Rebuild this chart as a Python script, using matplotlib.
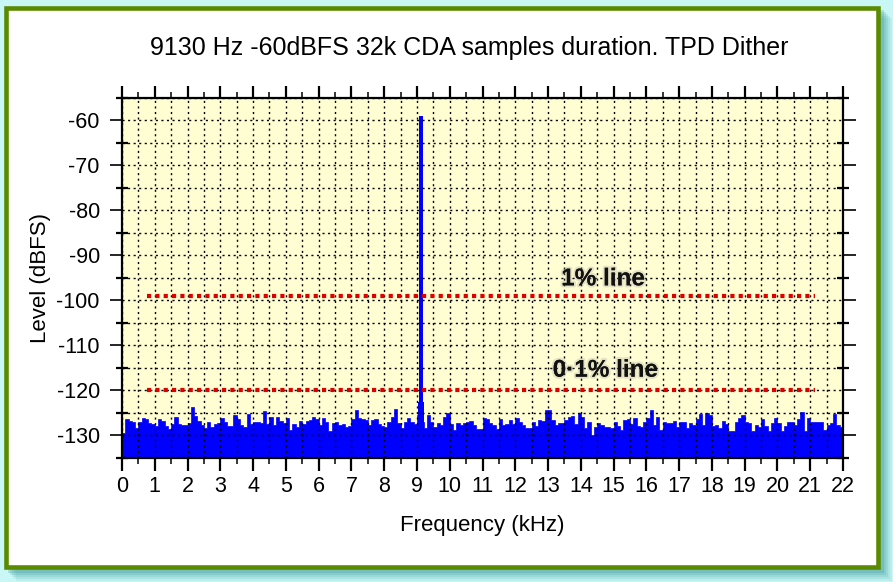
import numpy as np
import matplotlib
matplotlib.use("Agg")
import matplotlib.pyplot as plt
from matplotlib.patches import Rectangle
from matplotlib.ticker import MultipleLocator
import matplotlib.patheffects as pe

plt.rcParams['font.family'] = ['Liberation Sans', 'DejaVu Sans']
plt.rcParams['axes.unicode_minus'] = False

# ---------------- data ----------------
title = "9130 Hz -60dBFS 32k CDA samples duration. TPD Dither"
xlabel = "Frequency (kHz)"
ylabel = "Level (dBFS)"

bin_width_khz = 0.1
noise_floor_db = [
    -129.5, -126.5, -126.8, -127.0, -128.4, -127.2, -126.3, -126.5, -127.3, -127.6,
    -128.0, -126.4, -126.8, -127.9, -128.6, -127.5, -125.9, -127.6, -127.8, -127.7,
    -127.4, -123.7, -125.8, -126.9, -127.8, -128.5, -127.2, -128.2, -127.5, -127.4,
    -126.2, -127.2, -127.9, -128.0, -125.6, -126.5, -127.8, -128.2, -125.3, -127.6,
    -127.2, -127.1, -127.4, -124.6, -127.5, -126.0, -127.8, -126.0, -126.8, -127.4,
    -126.3, -128.9, -127.5, -128.2, -126.8, -127.5, -126.9, -126.6, -126.1, -126.5,
    -127.7, -126.3, -127.1, -129.0, -127.4, -127.1, -127.8, -127.5, -128.2, -128.0,
    -126.5, -124.5, -126.3, -126.5, -126.6, -127.7, -126.6, -126.5, -127.6, -128.0,
    -128.2, -127.1, -126.0, -124.3, -127.4, -128.5, -127.0, -126.3, -127.1, -127.6,
    -125.5, -127.0, -128.5, -125.6, -127.0, -128.2, -127.3, -127.7, -126.0, -125.2,
    -127.6, -128.8, -127.4, -127.7, -127.4, -127.0, -126.9, -127.8, -128.6, -128.6,
    -126.3, -126.5, -127.4, -127.7, -128.6, -126.5, -127.7, -127.5, -126.7, -127.6,
    -126.2, -127.2, -127.8, -128.4, -128.4, -127.0, -128.0, -126.7, -126.8, -124.4,
    -124.5, -126.7, -127.8, -127.4, -127.4, -126.6, -126.0, -125.7, -127.5, -125.0,
    -125.9, -128.5, -127.1, -129.9, -128.2, -127.4, -127.7, -128.2, -128.2, -128.4,
    -127.1, -128.0, -128.9, -126.7, -126.5, -127.6, -126.3, -128.0, -128.2, -127.1,
    -126.3, -124.5, -127.8, -126.0, -128.9, -127.2, -127.4, -127.4, -126.8, -128.3,
    -127.1, -127.2, -128.5, -127.3, -127.8, -126.5, -125.3, -127.8, -125.0, -125.5,
    -128.0, -127.8, -128.5, -126.8, -127.6, -129.1, -129.0, -127.1, -126.2, -125.6,
    -127.0, -127.4, -129.0, -127.8, -128.2, -126.5, -128.0, -129.0, -127.3, -126.3,
    -127.4, -129.1, -128.0, -127.1, -127.0, -127.8, -126.5, -124.8, -129.0, -126.2,
    -127.1, -127.2, -127.2, -127.1, -128.9, -127.7, -127.4, -125.4, -127.8, -128.2,
]

peak_freq_khz = 9.13
peak_level_db = -59.0
peak_skirt_db = -122.7

ref_lines_db = [-99.2, -120.0]
ref_line_span_khz = [0.76, 21.15]
ref_labels = ["1% line", "0·1% line"]
ref_label_pos = [(14.68, -95.3), (14.75, -115.6)]

xlim = (0, 22)
ylim = (-135, -55)
xticks = list(range(0, 23))
yticks = list(range(-130, -59, 10))

# ---------------- figure ----------------
W, H = 893, 582
fig = plt.figure(figsize=(W / 100, H / 100), dpi=100)
fig.patch.set_facecolor('#c9f7f6')

def fx(px):
    return px / W

def fy(py):
    return 1 - py / H

# soft shadow (bottom-right)
for i, a in enumerate([0.10, 0.12, 0.15, 0.2, 0.25]):
    off = 12 - 2 * i
    fig.add_artist(Rectangle((fx(4 + off), fy(569 + off)), fx(876), 563 / H,
                             transform=fig.transFigure, facecolor='#3f9b9b',
                             edgecolor='none', alpha=a, zorder=-10))
# white card with green frame
fig.add_artist(Rectangle((fx(6.25), fy(566.75)), fx(871.5), 558.5 / H,
                         transform=fig.transFigure, facecolor='white',
                         edgecolor='#5a8a00', linewidth=3.3, zorder=-5))

ax = fig.add_axes([fx(122), fy(457.5), fx(843) - fx(122), (457.5 - 97.5) / H])
ax.set_facecolor('#fffdd2')

edges = np.arange(len(noise_floor_db) + 1) * bin_width_khz
ax.stairs(noise_floor_db, edges, baseline=ylim[0], fill=True,
          facecolor='#0000ff', edgecolor='#0000ff', linewidth=0.5, zorder=1.5)
ax.bar([peak_freq_khz], [peak_skirt_db - ylim[0]], bottom=ylim[0], width=0.17,
       color='#0000ff', linewidth=0, zorder=1.6)
ax.bar([peak_freq_khz], [peak_level_db - ylim[0]], bottom=ylim[0], width=0.122,
       color='#0000ff', linewidth=0, zorder=1.6)

for lvl in ref_lines_db:
    ax.plot(ref_line_span_khz, [lvl, lvl], color='#dd0000', linewidth=3.0,
            linestyle=(0, (1.0, 1.0)), solid_capstyle='butt',
            dash_capstyle='butt', zorder=4)

for lab, (x, y) in zip(ref_labels, ref_label_pos):
    ax.text(x, y, lab, ha='center', va='center', fontsize=17.5, fontweight='bold',
            color='#111111', zorder=6,
            path_effects=[pe.withStroke(linewidth=3, foreground=(0.6, 0.6, 0.6, 0.25))])

ax.set_xlim(*xlim)
ax.set_ylim(*ylim)
ax.xaxis.set_major_locator(MultipleLocator(1))
ax.xaxis.set_minor_locator(MultipleLocator(0.5))
ax.set_xticks(xticks)
ax.set_yticks(yticks)
ax.yaxis.set_minor_locator(MultipleLocator(5))

ax.grid(True, which='both', color='black', linewidth=1.0,
        linestyle=(0, (1.5, 2.5)))
ax.set_axisbelow(False)
for gl in ax.get_xgridlines() + ax.get_ygridlines():
    gl.set_zorder(3)
for gl in ax.xaxis.get_minorticklines():
    pass
for t in ax.xaxis.get_minor_ticks() + ax.yaxis.get_minor_ticks():
    t.gridline.set_zorder(3)

for s in ax.spines.values():
    s.set_linewidth(1.6)
    s.set_zorder(7)

ax.tick_params(axis='x', which='major', direction='out', length=9, width=1.6,
               top=True, bottom=True, labelsize=15.5, pad=4)
ax.tick_params(axis='x', which='minor', direction='out', length=4.5, width=1.1,
               top=True, bottom=True)
ax.tick_params(axis='y', which='major', direction='out', length=9, width=1.2,
               left=True, right=True, labelsize=15.5, pad=7)
ax.tick_params(axis='y', which='minor', direction='inout', length=8, width=1.6,
               left=True, right=True)

ax.set_xlabel(xlabel, fontsize=16, va='center')
ax.xaxis.set_label_coords(0.5, -0.19)
ax.set_ylabel(ylabel, fontsize=16, va='center', ha='center')
ax.yaxis.set_label_coords(-0.1137, 0.4986)

fig.text(fx(469), fy(48), title, ha='center', va='center', fontsize=18)

fig.savefig('out.png', dpi=100, facecolor=fig.get_facecolor())
